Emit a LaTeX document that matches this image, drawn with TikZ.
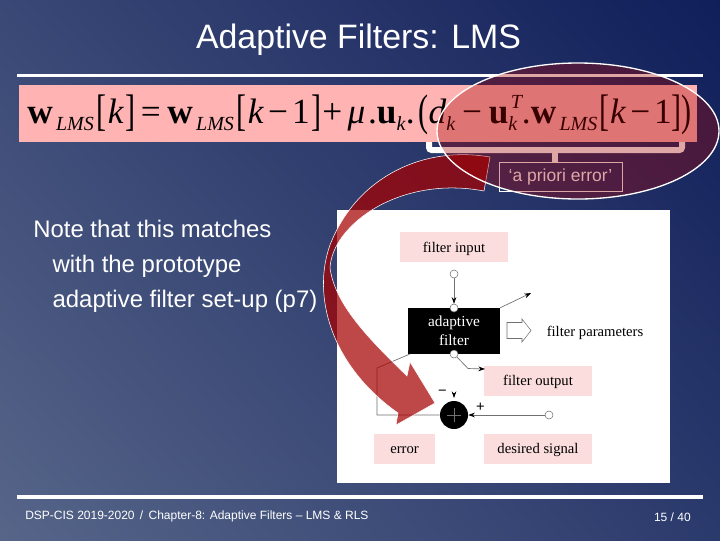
\documentclass[tikz,border=0pt]{standalone}
\usepackage{fontspec}
\setmainfont{Liberation Sans}
\newfontfamily\eqfont{Liberation Serif}
\usetikzlibrary{arrows.meta,shadings}
\definecolor{bgll}{HTML}{566588}
\definecolor{bgul}{HTML}{3A4876}
\definecolor{bgur}{HTML}{101E5A}
\definecolor{bglr}{HTML}{2B3A6C}
\definecolor{eqpink}{HTML}{FFB3B3}
\definecolor{boxpink}{HTML}{FBDDDD}
\definecolor{wirecol}{HTML}{707070}
\newcommand{\tallb}[1]{\raisebox{-1.5pt}{\scalebox{0.85}[1.25]{#1}}}
\newcommand{\wlms}{\textbf{w}\kern2.5pt{\fontsize{15}{15}\selectfont\raisebox{-5pt}{\textit{LMS}}}}
\newcommand{\ksub}{{\fontsize{15}{15}\selectfont\raisebox{-5pt}{\textit{k}}}}
\newcommand{\kminus}{\textit{k}\kern3pt−\kern3pt1}
\tikzset{
	pinkbox/.style={fill=boxpink, minimum width=#1*0.75pt, minimum height=22.5pt, inner sep=0pt, text height=7.6pt, text depth=0pt, font=\eqfont\fontsize{11}{11}\selectfont, text=black},
	port/.style={circle, draw=wirecol, fill=white, line width=0.4pt, minimum size=6pt, inner sep=0pt},
	wire/.style={draw=wirecol, line width=0.5pt},
	wirearrow/.style={wire, -{Stealth[length=5pt,width=3.5pt,black]}},
	rulebar/.style={white, line width=2.6pt}
}
\begin{document}
\begin{tikzpicture}[x=0.75pt,y=-0.75pt]
	\useasboundingbox (0,0) rectangle (720,540);
	\shade[lower left=bgll, upper left=bgul, upper right=bgur, lower right=bglr] (0,0) rectangle (720,540);
	% slide frame
	\node[text=white, font=\fontsize{25.4}{27}\selectfont, inner sep=0pt] (title) at (358.5,39.5) {Adaptive Filters: LMS};
	\coordinate (topl) at (17,75.5);
	\coordinate (topr) at (703,75.5);
	\coordinate (botl) at (17,497);
	\coordinate (botr) at (703,497);
	\draw[rulebar] (topl) -- (topr);
	\draw[rulebar] (botl) -- (botr);
	\node[anchor=west, text=white, font=\fontsize{9}{10}\selectfont, inner sep=0pt] (footer) at (25,516) {DSP-CIS 2019-2020 \,/\, Chapter-8: Adaptive Filters -- LMS \& RLS};
	\node[anchor=east, text=white, font=\fontsize{9}{10}\selectfont, inner sep=0pt] (page) at (691,517) {15 / 40};
	% brace under the error term
	\coordinate (bracel) at (429,138);
	\coordinate (bracer) at (682,138);
	\coordinate (bracem) at (555,150);
	\coordinate (bracet) at (555,163);
	\draw[white, line width=4.5pt, rounded corners=2pt] (bracel) |- (bracem) -| (bracer);
	\draw[white, line width=5pt] (bracem) -- (bracet);
	% update equation
	\node[fill=eqpink, minimum width=508.5pt, minimum height=42.75pt, inner sep=0pt] (eqbox) at (358,113.5) {};
	\node[anchor=west, inner sep=0pt, font=\eqfont\fontsize{26.5}{28}\selectfont] (equation) at (27,115) {\wlms\kern2pt\tallb{[}\kern1pt\textit{k}\kern1pt\tallb{]}\kern4pt=\kern5pt\wlms\kern2pt\tallb{[}\kern1pt\kminus\kern1pt\tallb{]}\kern1pt+\kern4pt\textit{μ}\kern2pt.\textbf{u}\ksub.\kern3pt\tallb{(}\textit{d}\ksub\kern5pt−\kern5pt\textbf{u}\ksub\kern-5pt\raisebox{11pt}{\fontsize{15}{15}\selectfont\textit{T}}\kern-1pt.\wlms\kern1.5pt\tallb{[}\kern0.5pt\kminus\kern0pt\tallb{]}\kern0pt\tallb{)}};
	\node[draw=white, line width=0.4pt, text=white, font=\fontsize{13.1}{15}\selectfont, minimum width=92pt, minimum height=21.5pt, inner sep=0pt] (priori) at (560.5,176.5) {‘a priori error’};
	% left text
	\node[anchor=north west, align=left, text=white, font=\fontsize{17.95}{26.25}\selectfont, inner sep=0pt] (note) at (33,219.5) {Note that this matches\\\hspace*{14.5pt}with the prototype\\\hspace*{14.5pt}adaptive filter set-up (p7)};
	% filter scheme
	\node[fill=white, minimum width=249.75pt, minimum height=204.75pt, inner sep=0pt] (scheme) at (503.5,346.5) {};
	\node[pinkbox=108] (input) at (454,247) {filter input};
	\node[pinkbox=108] (output) at (538,380.5) {filter output};
	\node[pinkbox=61] (error) at (404.5,448.5) {error};
	\node[pinkbox=108] (desired) at (538,448.5) {desired signal};
	\node[fill=black, text=white, align=center, minimum width=69pt, minimum height=34.5pt, inner sep=0pt, font=\eqfont\fontsize{11.5}{14}\selectfont] (filter) at (454,331) {adaptive\\filter};
	\node[font=\eqfont\fontsize{11}{11}\selectfont, inner sep=0pt] (params) at (595,332.5) {filter parameters};
	\draw[wirecol, line width=0.4pt, fill=white] (507,322.5) -- (522,322.5) -- (522,319) -- (531,330.5) -- (522,342) -- (522,338.5) -- (507,338.5) -- cycle;
	\node[port] (inport) at (454,274) {};
	\node[port] (topport) at (454,308) {};
	\node[port] (botport) at (454,354) {};
	\node[port] (desport) at (549,415) {};
	\node[circle, fill=black, minimum size=21pt, inner sep=0pt] (sum) at (454,415) {};
	\draw[wirecol, line width=0.4pt] (447,415) -- (461,415) (454,408) -- (454,422);
	\node[inner sep=0pt, font=\fontsize{11}{11}\selectfont] (plus) at (480.5,407) {+};
	\node[inner sep=0pt, font=\fontsize{11}{11}\selectfont] (minus) at (442.5,392.5) {−};
	\coordinate (paramtip) at (531,293);
	\coordinate (outbend) at (468,368.5);
	\coordinate (outtip) at (485,369);
	\coordinate (fbstart) at (410,354);
	\coordinate (fbbend) at (377,368);
	\coordinate (sumtop) at (454,398);
	\coordinate (sumtopa) at (454,393);
	\draw[wirearrow] (inport) -- (topport);
	\draw[wirearrow] (filter.north east) -- (paramtip);
	\draw[wirearrow] (botport) -- (outbend) -- (outtip);
	\draw[wire] (fbstart) -- (fbbend) |- (sum.west);
	\draw[wirearrow] (sumtopa) -- (sumtop);
	\draw[wirearrow] (desport) -- (sum.east);
	% red arrow and oval
	\draw[white, line width=0.4pt, fill=red!65!black, fill opacity=0.72] (490,157) .. controls (420,145) and (355,180) .. (330,245) .. controls (312,295) and (330,365) .. (398,413) -- (396,425) -- (435,403) -- (410,362) -- (407,376) .. controls (370,340) and (335,305) .. (330,268) .. controls (332,225) and (400,175) .. (484,191) -- cycle;
	\draw[white, line width=1pt, fill=red!65!black, fill opacity=0.35] (578,131) ellipse [x radius=141, y radius=68];
\end{tikzpicture}
\end{document}
